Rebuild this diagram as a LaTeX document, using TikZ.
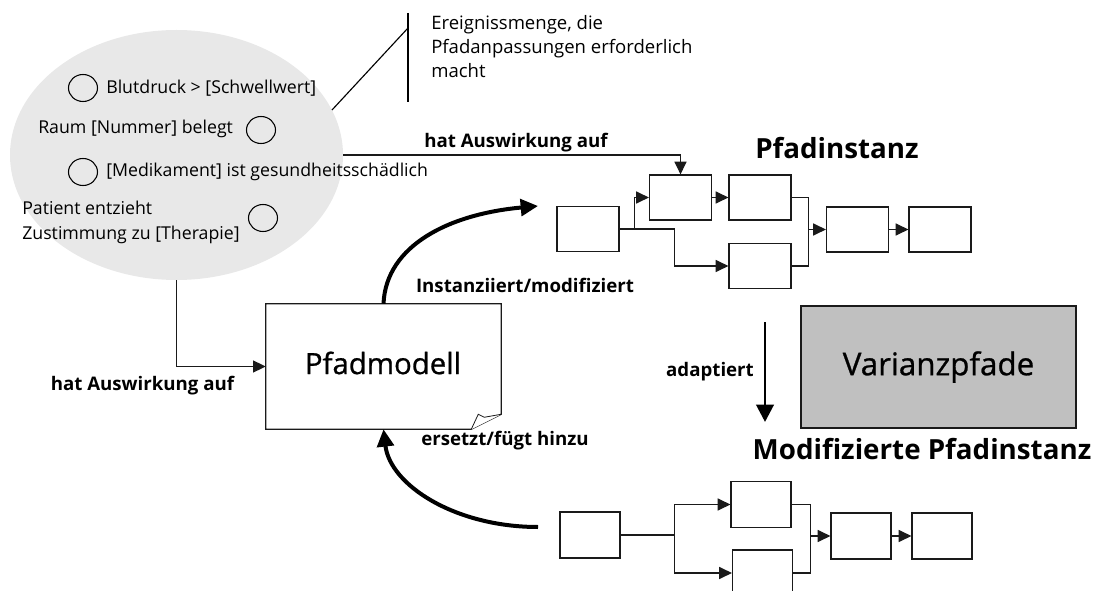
\documentclass[tikz,border=0pt]{standalone}
\usepackage{fontspec}
\setmainfont{Open Sans}
\newfontfamily\medfont[FakeBold=0.8]{Open Sans}
\usetikzlibrary{arrows.meta,shapes.geometric}
\definecolor{ellgray}{HTML}{E8E8E8}
\definecolor{vargray}{HTML}{C0C0C0}
\definecolor{ln}{HTML}{1A1A1A}
\begin{document}
\begin{tikzpicture}[x=0.75pt,y=-0.75pt,
  txt/.style={font=\fontsize{13.3}{16}\selectfont, inner sep=0pt},
  btxt/.style={font=\fontsize{14}{17}\selectfont\bfseries, inner sep=0pt},
  title/.style={font=\fontsize{20.8}{24}\selectfont\bfseries, inner sep=0pt},
  pbox/.style={draw=ln, line width=0.9pt, minimum width=46.5pt, minimum height=33.75pt, inner sep=0pt},
  cbox/.style={draw=ln, line width=0.9pt, minimum width=45pt, minimum height=34.5pt, inner sep=0pt},
  evc/.style={draw=black, line width=0.8pt, ellipse, minimum width=21.75pt, minimum height=20.25pt, inner sep=0pt},
  conn/.style={draw=ln, line width=0.85pt, -{Triangle[length=9.5pt,width=9pt]}},
  plain/.style={draw=ln, line width=0.85pt},
  bigarrow/.style={draw=black, line width=3pt, -{Triangle[length=13pt,width=12.5pt]}},
]
\useasboundingbox (0,0) rectangle (1098,591);
\clip (0,0) rectangle (1098,591);

% event ellipse
\node[ellipse, fill=ellgray, minimum width=249.75pt, minimum height=187.5pt, inner sep=0pt] (ell) at (176.5,155) {};
\node[evc] (c1) at (83,88) {};
\node[txt, anchor=west] (t1) at (106,88) {Blutdruck > [Schwellwert]};
\node[txt, anchor=west] (t2) at (38,129) {Raum [Nummer] belegt};
\node[evc] (c2) at (261,130) {};
\node[evc] (c3) at (83,172) {};
\node[txt, anchor=west] (t3) at (106,172) {[Medikament] ist gesundheitsschädlich};
\node[txt, anchor=west, align=left, font=\fontsize{13.3}{18.75}\selectfont] (t4) at (22,222) {Patient entzieht\\Zustimmung zu [Therapie]};
\node[evc] (c4) at (263,218) {};

% annotation
\coordinate (an0) at (332,110);
\coordinate (an1) at (408,28);
\coordinate (an2) at (408,13);
\coordinate (an3) at (408,102);
\draw[plain, draw=black] (an0) -- (an1);
\draw[plain, draw=black] (an2) -- (an3);
\node[txt, anchor=west, align=left, font=\fontsize{13.9}{18}\selectfont] (ann) at (431,47) {Ereignissmenge, die\\Pfadanpassungen erforderlich\\macht};

% Pfadinstanz
\node[title] (pi) at (837,148) {Pfadinstanz};
\node[pbox] (B1) at (588,229) {};
\node[pbox] (B2) at (680.5,197.5) {};
\node[pbox] (B3) at (760,197.5) {};
\node[pbox] (B4) at (760,266) {};
\node[pbox] (B5) at (857.5,229.5) {};
\node[pbox] (B6) at (940,229.5) {};
\draw[conn] (B1.east) -- ++(15,0) |- (B2.west);
\draw[conn] (B1.east) -- ++(55,0) |- (B4.west);
\draw[conn] (B2.east) -- (B3.west);
\draw[plain] (B3.east) -- ++(17,0) coordinate (j1) -- (j1 |- B4.east) -- (B4.east);
\draw[conn] (j1 |- B5.west) -- (B5.west);
\draw[conn] (B5.east) -- (B6.west);

\draw[conn] (ell.east) -| (B2.north);
\node[btxt] (l1) at (516,143) {hat Auswirkung auf};

% Pfadmodell
\node[minimum width=176.25pt, minimum height=93.75pt, inner sep=0pt] (PM) at (383.5,366.5) {};
\draw[draw=ln, line width=0.9pt, fill=white] (PM.north west) -- (PM.north east) -- ([yshift=11.25pt]PM.south east) -- ([xshift=-22.5pt]PM.south east) -- (PM.south west) -- cycle;
\draw[draw=ln, line width=0.6pt, fill=white] ([xshift=-22.5pt]PM.south east) -- ++(7,-15) .. controls ++(3,1) and ++(-3,-1) .. ++(6,3) -- ([yshift=11.25pt]PM.south east);
\node[font=\fontsize{22}{26}\medfont, inner sep=0pt] (pmt) at (383,363) {Pfadmodell};

\draw[conn] (ell.south) |- (PM.west);
\node[btxt] (l2) at (142.5,386) {hat Auswirkung auf};

% curved arrows
\coordinate (a1) at (538,206);
\draw[bigarrow] (PM.north) .. controls (386,245) and (450,214) .. (a1);
\node[btxt] (l3) at (525,285) {Instanziiert/modifiziert};
\coordinate (a2) at (538,527);
\draw[bigarrow] (a2) .. controls (455,527) and (390,485) .. (PM.south);
\node[btxt] (l4) at (505,441) {ersetzt/fügt hinzu};

% adaptiert
\coordinate (ad0) at (765,322);
\coordinate (ad1) at (765,422);
\draw[draw=black, line width=2.2pt, -{Triangle[length=13pt,width=13pt]}] (ad0) -- (ad1);
\node[btxt] (l5) at (710,372) {adaptiert};

% Varianzpfade
\node[draw=ln, line width=0.9pt, fill=vargray, minimum width=206.25pt, minimum height=91.5pt, inner sep=0pt, font=\fontsize{23.5}{27}\medfont] (VP) at (938.5,367) {Varianzpfade};

% Modifizierte Pfadinstanz
\node[title] (mpi) at (922,449) {Modifizierte Pfadinstanz};
\node[cbox] (C1) at (590,535) {};
\node[cbox] (C2) at (761,504.5) {};
\node[cbox] (C3) at (762.5,573) {};
\node[cbox] (C4) at (861,536) {};
\node[cbox] (C5) at (942,536) {};
\draw[plain] (C1.east) -- ++(54,0) coordinate (j2);
\draw[conn] (j2) |- (C2.west);
\draw[conn] (j2) |- (C3.west);
\draw[plain] (C2.east) -- ++(19,0) coordinate (j3) -- (j3 |- C3.east) -- (C3.east);
\draw[conn] (j3 |- C4.west) -- (C4.west);
\draw[conn] (C4.east) -- (C5.west);
\end{tikzpicture}
\end{document}
